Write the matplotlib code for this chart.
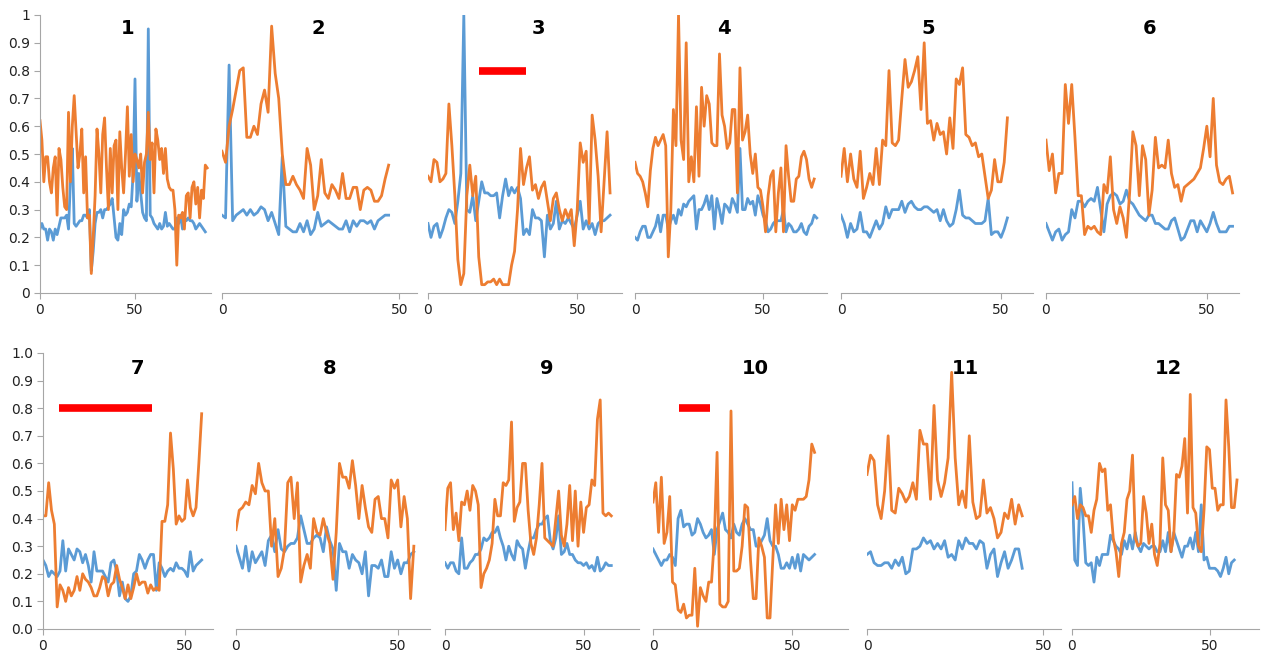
import matplotlib
matplotlib.use("Agg")
import matplotlib.pyplot as plt

BLUE = "#5B9BD5"
ORANGE = "#ED7D31"
RED = "#FF0000"
GREY = "#A6A6A6"

# ---- data (one blue + one orange series per panel) ----
blue_1 = [0.23, 0.25, 0.23, 0.23, 0.19, 0.23, 0.22, 0.19, 0.23, 0.21,
          0.24, 0.27, 0.27, 0.27, 0.28, 0.23, 0.40, 0.52, 0.25, 0.24,
          0.25, 0.26, 0.26, 0.28, 0.28, 0.27, 0.30, 0.08, 0.15, 0.25,
          0.29, 0.29, 0.30, 0.27, 0.30, 0.30, 0.31, 0.32, 0.34, 0.27,
          0.20, 0.19, 0.25, 0.21, 0.30, 0.28, 0.29, 0.32, 0.31, 0.43,
          0.77, 0.33, 0.43, 0.36, 0.29, 0.27, 0.26, 0.95, 0.28, 0.27,
          0.25, 0.24, 0.23, 0.25, 0.23, 0.24, 0.29, 0.24, 0.25, 0.24,
          0.23, 0.23, 0.27, 0.25, 0.28, 0.23, 0.27, 0.26, 0.27, 0.26,
          0.26, 0.25, 0.23, 0.24, 0.25, 0.24, 0.23, 0.22]
orange_1 = [0.62, 0.55, 0.40, 0.49, 0.49, 0.40, 0.36, 0.45, 0.49, 0.28,
            0.52, 0.48, 0.38, 0.31, 0.30, 0.65, 0.40, 0.60, 0.71, 0.58,
            0.45, 0.50, 0.59, 0.36, 0.49, 0.27, 0.28, 0.07, 0.20, 0.35,
            0.59, 0.50, 0.36, 0.57, 0.63, 0.45, 0.30, 0.52, 0.36, 0.53,
            0.55, 0.30, 0.58, 0.45, 0.36, 0.50, 0.67, 0.42, 0.57, 0.40,
            0.50, 0.48, 0.45, 0.50, 0.36, 0.47, 0.50, 0.65, 0.48, 0.54,
            0.36, 0.59, 0.55, 0.48, 0.52, 0.43, 0.52, 0.41, 0.38, 0.37,
            0.37, 0.30, 0.10, 0.28, 0.27, 0.29, 0.23, 0.35, 0.36, 0.27,
            0.38, 0.40, 0.32, 0.38, 0.27, 0.37, 0.34, 0.46, 0.45]

blue_2 = [0.28, 0.27, 0.82, 0.26, 0.28, 0.29, 0.30, 0.28, 0.30, 0.28,
          0.29, 0.31, 0.30, 0.26, 0.29, 0.25, 0.21, 0.49, 0.24, 0.23,
          0.22, 0.22, 0.25, 0.22, 0.26, 0.21, 0.23, 0.29, 0.24, 0.25,
          0.26, 0.25, 0.24, 0.23, 0.23, 0.26, 0.22, 0.26, 0.24, 0.26,
          0.26, 0.25, 0.26, 0.23, 0.26, 0.27, 0.28, 0.28]
orange_2 = [0.51, 0.47, 0.60, 0.66, 0.73, 0.80, 0.81, 0.56, 0.56, 0.60,
            0.57, 0.68, 0.73, 0.65, 0.96, 0.79, 0.70, 0.50, 0.39, 0.39,
            0.42, 0.39, 0.37, 0.34, 0.52, 0.46, 0.30, 0.35, 0.48, 0.36,
            0.34, 0.39, 0.37, 0.34, 0.43, 0.34, 0.34, 0.38, 0.38, 0.30,
            0.37, 0.38, 0.37, 0.33, 0.33, 0.35, 0.41, 0.46]

blue_3 = [0.25, 0.20, 0.24, 0.25, 0.20, 0.23, 0.27, 0.30, 0.29, 0.25,
          0.33, 0.43, 1.00, 0.30, 0.29, 0.35, 0.26, 0.33, 0.40, 0.36,
          0.36, 0.35, 0.35, 0.36, 0.27, 0.35, 0.41, 0.35, 0.38, 0.36,
          0.38, 0.34, 0.21, 0.23, 0.21, 0.30, 0.27, 0.27, 0.26, 0.13,
          0.28, 0.23, 0.25, 0.33, 0.23, 0.26, 0.25, 0.27, 0.25, 0.23,
          0.28, 0.33, 0.23, 0.26, 0.23, 0.25, 0.21, 0.25, 0.26, 0.26,
          0.27, 0.28]
orange_3 = [0.42, 0.40, 0.48, 0.47, 0.40, 0.41, 0.43, 0.68, 0.53, 0.35,
            0.12, 0.03, 0.07, 0.35, 0.46, 0.35, 0.42, 0.13, 0.03, 0.03,
            0.04, 0.04, 0.05, 0.03, 0.05, 0.03, 0.03, 0.03, 0.10, 0.15,
            0.30, 0.52, 0.39, 0.45, 0.49, 0.37, 0.39, 0.34, 0.38, 0.40,
            0.33, 0.26, 0.34, 0.36, 0.30, 0.26, 0.30, 0.27, 0.30, 0.17,
            0.30, 0.54, 0.47, 0.51, 0.25, 0.64, 0.55, 0.42, 0.22, 0.40,
            0.58, 0.36]

blue_4 = [0.20, 0.19, 0.22, 0.24, 0.24, 0.20, 0.20, 0.22, 0.24, 0.28,
          0.22, 0.28, 0.28, 0.23, 0.26, 0.28, 0.25, 0.30, 0.28, 0.32,
          0.31, 0.33, 0.34, 0.35, 0.23, 0.30, 0.30, 0.32, 0.35, 0.30,
          0.35, 0.23, 0.34, 0.30, 0.25, 0.32, 0.31, 0.29, 0.34, 0.32,
          0.29, 0.52, 0.30, 0.30, 0.34, 0.32, 0.33, 0.28, 0.35, 0.32,
          0.28, 0.26, 0.22, 0.23, 0.25, 0.26, 0.26, 0.26, 0.30, 0.22,
          0.25, 0.24, 0.22, 0.22, 0.23, 0.25, 0.22, 0.21, 0.24, 0.25,
          0.28, 0.27]
orange_4 = [0.47, 0.43, 0.42, 0.40, 0.36, 0.31, 0.44, 0.52, 0.56, 0.53,
            0.55, 0.57, 0.53, 0.13, 0.30, 0.66, 0.53, 1.00, 0.55, 0.48,
            0.90, 0.40, 0.49, 0.40, 0.67, 0.42, 0.74, 0.60, 0.71, 0.68,
            0.54, 0.53, 0.53, 0.86, 0.64, 0.60, 0.52, 0.54, 0.66, 0.66,
            0.36, 0.81, 0.55, 0.58, 0.64, 0.50, 0.43, 0.50, 0.38, 0.37,
            0.31, 0.22, 0.35, 0.42, 0.44, 0.22, 0.36, 0.45, 0.22, 0.53,
            0.42, 0.33, 0.33, 0.41, 0.42, 0.49, 0.51, 0.48, 0.41, 0.38,
            0.41]

blue_5 = [0.28, 0.25, 0.20, 0.25, 0.22, 0.23, 0.29, 0.22, 0.22, 0.20,
          0.23, 0.26, 0.23, 0.25, 0.31, 0.27, 0.30, 0.30, 0.30, 0.33,
          0.29, 0.32, 0.33, 0.31, 0.30, 0.30, 0.31, 0.31, 0.30, 0.29,
          0.30, 0.26, 0.30, 0.26, 0.24, 0.25, 0.30, 0.37, 0.28, 0.27,
          0.27, 0.26, 0.25, 0.25, 0.25, 0.26, 0.34, 0.21, 0.22, 0.22,
          0.20, 0.23, 0.27]
orange_5 = [0.42, 0.52, 0.40, 0.50, 0.41, 0.38, 0.51, 0.34, 0.38, 0.43,
            0.39, 0.52, 0.39, 0.55, 0.53, 0.80, 0.54, 0.53, 0.55, 0.70,
            0.84, 0.74, 0.76, 0.80, 0.85, 0.66, 0.90, 0.61, 0.62, 0.55,
            0.61, 0.57, 0.58, 0.50, 0.63, 0.52, 0.77, 0.75, 0.81, 0.57,
            0.56, 0.53, 0.54, 0.49, 0.50, 0.42, 0.34, 0.37, 0.48, 0.40,
            0.40, 0.47, 0.63]

blue_6 = [0.25, 0.22, 0.19, 0.22, 0.23, 0.19, 0.21, 0.22, 0.30, 0.27,
          0.33, 0.33, 0.31, 0.33, 0.34, 0.33, 0.38, 0.30, 0.22, 0.32,
          0.35, 0.36, 0.35, 0.32, 0.33, 0.37, 0.33, 0.32, 0.30, 0.28,
          0.27, 0.26, 0.28, 0.28, 0.25, 0.25, 0.24, 0.23, 0.23, 0.26,
          0.27, 0.23, 0.19, 0.20, 0.23, 0.26, 0.26, 0.22, 0.26, 0.24,
          0.22, 0.25, 0.29, 0.25, 0.22, 0.22, 0.22, 0.24, 0.24]
orange_6 = [0.55, 0.44, 0.50, 0.36, 0.43, 0.43, 0.75, 0.61, 0.75, 0.56,
            0.35, 0.35, 0.21, 0.24, 0.23, 0.24, 0.22, 0.21, 0.39, 0.36,
            0.49, 0.30, 0.25, 0.31, 0.27, 0.20, 0.36, 0.58, 0.53, 0.35,
            0.53, 0.48, 0.28, 0.37, 0.56, 0.45, 0.46, 0.45, 0.55, 0.43,
            0.38, 0.39, 0.33, 0.38, 0.39, 0.40, 0.41, 0.43, 0.45, 0.52,
            0.60, 0.49, 0.70, 0.46, 0.40, 0.39, 0.41, 0.42, 0.36]

blue_7 = [0.25, 0.23, 0.19, 0.21, 0.20, 0.19, 0.21, 0.32, 0.21, 0.29,
          0.27, 0.25, 0.29, 0.28, 0.24, 0.27, 0.23, 0.17, 0.28, 0.21,
          0.21, 0.21, 0.19, 0.17, 0.24, 0.25, 0.21, 0.12, 0.17, 0.11,
          0.10, 0.12, 0.20, 0.21, 0.27, 0.25, 0.22, 0.25, 0.27, 0.27,
          0.14, 0.24, 0.22, 0.19, 0.21, 0.22, 0.21, 0.24, 0.22, 0.22,
          0.21, 0.19, 0.28, 0.21, 0.23, 0.24, 0.25]
orange_7 = [0.41, 0.41, 0.53, 0.43, 0.38, 0.08, 0.16, 0.14, 0.10, 0.15,
            0.12, 0.14, 0.19, 0.14, 0.20, 0.18, 0.17, 0.15, 0.12, 0.12,
            0.15, 0.19, 0.18, 0.12, 0.16, 0.17, 0.23, 0.18, 0.15, 0.11,
            0.16, 0.11, 0.15, 0.20, 0.16, 0.17, 0.17, 0.13, 0.16, 0.14,
            0.15, 0.14, 0.39, 0.39, 0.45, 0.71, 0.58, 0.38, 0.41, 0.39,
            0.40, 0.54, 0.44, 0.41, 0.44, 0.60, 0.78]

blue_8 = [0.30, 0.26, 0.22, 0.30, 0.21, 0.28, 0.24, 0.26, 0.28, 0.23,
          0.32, 0.34, 0.28, 0.36, 0.29, 0.28, 0.30, 0.31, 0.31, 0.33,
          0.41, 0.36, 0.31, 0.31, 0.33, 0.34, 0.33, 0.28, 0.37, 0.32,
          0.29, 0.14, 0.31, 0.28, 0.28, 0.22, 0.27, 0.25, 0.24, 0.20,
          0.28, 0.12, 0.23, 0.23, 0.22, 0.25, 0.19, 0.19, 0.28, 0.22,
          0.25, 0.20, 0.24, 0.24, 0.27, 0.28]
orange_8 = [0.36, 0.43, 0.44, 0.46, 0.45, 0.52, 0.49, 0.60, 0.53, 0.50,
            0.50, 0.30, 0.40, 0.19, 0.22, 0.29, 0.53, 0.55, 0.40, 0.53,
            0.17, 0.23, 0.27, 0.22, 0.40, 0.35, 0.34, 0.40, 0.35, 0.31,
            0.18, 0.35, 0.60, 0.55, 0.55, 0.51, 0.61, 0.52, 0.40, 0.52,
            0.44, 0.37, 0.35, 0.47, 0.48, 0.40, 0.40, 0.33, 0.54, 0.51,
            0.54, 0.37, 0.48, 0.40, 0.11, 0.30]

blue_9 = [0.24, 0.22, 0.24, 0.24, 0.21, 0.20, 0.33, 0.22, 0.22, 0.24,
          0.25, 0.27, 0.27, 0.29, 0.33, 0.32, 0.33, 0.35, 0.35, 0.37,
          0.33, 0.30, 0.25, 0.30, 0.27, 0.25, 0.32, 0.30, 0.29, 0.22,
          0.28, 0.33, 0.33, 0.36, 0.38, 0.38, 0.40, 0.41, 0.32, 0.29,
          0.33, 0.41, 0.27, 0.28, 0.31, 0.27, 0.27, 0.25, 0.24, 0.24,
          0.23, 0.24, 0.22, 0.23, 0.21, 0.26, 0.21, 0.22, 0.24, 0.23,
          0.23]
orange_9 = [0.36, 0.51, 0.53, 0.36, 0.42, 0.32, 0.46, 0.45, 0.50, 0.43,
            0.52, 0.50, 0.45, 0.15, 0.20, 0.22, 0.25, 0.31, 0.47, 0.41,
            0.41, 0.53, 0.52, 0.54, 0.75, 0.39, 0.44, 0.46, 0.60, 0.60,
            0.43, 0.31, 0.27, 0.33, 0.45, 0.60, 0.33, 0.32, 0.31, 0.30,
            0.40, 0.50, 0.34, 0.30, 0.38, 0.52, 0.32, 0.50, 0.30, 0.46,
            0.35, 0.44, 0.45, 0.54, 0.52, 0.76, 0.83, 0.42, 0.41, 0.42,
            0.41]

blue_10 = [0.29, 0.27, 0.25, 0.23, 0.25, 0.25, 0.27, 0.26, 0.23, 0.40,
           0.43, 0.37, 0.38, 0.38, 0.34, 0.35, 0.40, 0.38, 0.35, 0.33,
           0.34, 0.36, 0.27, 0.36, 0.39, 0.42, 0.36, 0.35, 0.33, 0.38,
           0.35, 0.34, 0.38, 0.40, 0.38, 0.36, 0.36, 0.30, 0.30, 0.32,
           0.34, 0.40, 0.32, 0.30, 0.30, 0.27, 0.22, 0.22, 0.24, 0.22,
           0.26, 0.22, 0.27, 0.21, 0.27, 0.26, 0.25, 0.26, 0.27]
orange_10 = [0.46, 0.53, 0.35, 0.55, 0.31, 0.35, 0.48, 0.17, 0.16, 0.07,
             0.06, 0.09, 0.04, 0.05, 0.05, 0.22, 0.01, 0.15, 0.12, 0.10,
             0.17, 0.17, 0.32, 0.64, 0.09, 0.08, 0.08, 0.10, 0.79, 0.21,
             0.21, 0.22, 0.30, 0.45, 0.44, 0.25, 0.11, 0.11, 0.33, 0.30,
             0.26, 0.04, 0.04, 0.25, 0.45, 0.31, 0.47, 0.36, 0.45, 0.32,
             0.45, 0.43, 0.47, 0.47, 0.47, 0.48, 0.54, 0.67, 0.64]

blue_11 = [0.27, 0.28, 0.24, 0.23, 0.23, 0.24, 0.24, 0.22, 0.25, 0.23,
           0.26, 0.20, 0.21, 0.29, 0.29, 0.30, 0.33, 0.31, 0.32, 0.29,
           0.31, 0.29, 0.32, 0.26, 0.27, 0.25, 0.32, 0.29, 0.33, 0.31,
           0.31, 0.29, 0.32, 0.31, 0.22, 0.27, 0.29, 0.19, 0.24, 0.28,
           0.22, 0.25, 0.29, 0.29, 0.22]
orange_11 = [0.56, 0.63, 0.61, 0.45, 0.40, 0.50, 0.70, 0.43, 0.42, 0.51,
             0.49, 0.46, 0.48, 0.53, 0.47, 0.72, 0.67, 0.67, 0.47, 0.81,
             0.54, 0.48, 0.53, 0.62, 0.93, 0.62, 0.45, 0.50, 0.44, 0.70,
             0.46, 0.40, 0.41, 0.54, 0.42, 0.44, 0.40, 0.33, 0.35, 0.42,
             0.40, 0.47, 0.38, 0.45, 0.41]

blue_12 = [0.53, 0.25, 0.23, 0.51, 0.40, 0.24, 0.23, 0.24, 0.17, 0.26,
           0.23, 0.27, 0.27, 0.27, 0.34, 0.32, 0.30, 0.29, 0.27, 0.32,
           0.29, 0.34, 0.29, 0.35, 0.30, 0.28, 0.31, 0.30, 0.29, 0.30,
           0.30, 0.28, 0.28, 0.32, 0.28, 0.35, 0.28, 0.35, 0.32, 0.29,
           0.26, 0.30, 0.30, 0.33, 0.29, 0.35, 0.28, 0.45, 0.25, 0.26,
           0.22, 0.22, 0.22, 0.21, 0.19, 0.22, 0.26, 0.20, 0.24, 0.25]
orange_12 = [0.45, 0.48, 0.40, 0.45, 0.44, 0.41, 0.41, 0.35, 0.43, 0.47,
             0.60, 0.57, 0.58, 0.43, 0.45, 0.33, 0.28, 0.19, 0.31, 0.35,
             0.47, 0.50, 0.63, 0.33, 0.30, 0.31, 0.48, 0.42, 0.31, 0.38,
             0.27, 0.23, 0.31, 0.62, 0.45, 0.43, 0.28, 0.34, 0.56, 0.55,
             0.59, 0.69, 0.42, 0.85, 0.44, 0.42, 0.30, 0.28, 0.43, 0.66,
             0.65, 0.51, 0.51, 0.43, 0.45, 0.45, 0.83, 0.66, 0.44, 0.44,
             0.54]

panel_labels = ["1", "2", "3", "4", "5", "6", "7", "8", "9", "10", "11", "12"]
blues = [blue_1, blue_2, blue_3, blue_4, blue_5, blue_6,
         blue_7, blue_8, blue_9, blue_10, blue_11, blue_12]
oranges = [orange_1, orange_2, orange_3, orange_4, orange_5, orange_6,
           orange_7, orange_8, orange_9, orange_10, orange_11, orange_12]

# red marker bars: panel -> (x start, x end, y)
red_bars = {"3": (17, 33, 0.8), "7": (5.6, 38.6, 0.8), "10": (9.2, 20.6, 0.8)}

# ---- layout (pixels in the 1261x654 figure) ----
W, H = 1261, 654
x_max = [90, 55, 65, 75, 60, 60, 60, 60, 70, 70, 55, 68]
px_left = [40, 222, 428, 635, 841, 1046, 43, 236, 445, 653, 867, 1072]
px_right = [211, 417, 622, 827, 1033, 1239, 213, 430, 639, 848, 1061, 1259]
title_px = [(128, 28), (318, 28), (538, 28), (724, 28), (928, 28), (1150, 28),
            (138, 368), (330, 368), (547, 368), (755, 368), (965, 368), (1168, 368)]
row_px = [(293, 15), (629, 353)]  # (y of 0, y of 1)

fig = plt.figure(figsize=(W / 100, H / 100), dpi=100)

for i in range(12):
    row = 0 if i < 6 else 1
    y0, y1 = row_px[row]
    ax = fig.add_axes([px_left[i] / W, 1 - y0 / H,
                       (px_right[i] - px_left[i]) / W, (y0 - y1) / H])
    ax.plot(range(len(blues[i])), blues[i], color=BLUE, lw=2)
    ax.plot(range(len(oranges[i])), oranges[i], color=ORANGE, lw=2)
    lab = panel_labels[i]
    if lab in red_bars:
        xs, xe, yb = red_bars[lab]
        ax.plot([xs, xe], [yb, yb], color=RED, lw=5.5, solid_capstyle="butt")
    ax.set_xlim(0, x_max[i])
    ax.set_ylim(0, 1)
    ax.patch.set_alpha(0)
    for s in ["top", "right"]:
        ax.spines[s].set_visible(False)
    ax.spines["bottom"].set_color(GREY)
    ax.set_xticks([0, 50])
    ax.tick_params(axis="x", colors=GREY, labelcolor="#222222", labelsize=10,
                   length=4, width=0.8, pad=3)
    if i in (0, 6):
        ax.spines["left"].set_color(GREY)
        ax.set_yticks([k / 10 for k in range(11)])
        if i == 0:
            ax.set_yticklabels(["0"] + ["%.1f" % (k / 10) for k in range(1, 10)] + ["1"])
        else:
            ax.set_yticklabels(["%.1f" % (k / 10) for k in range(11)])
        ax.tick_params(axis="y", colors=GREY, labelcolor="#222222", labelsize=10,
                       length=4, width=0.8, pad=3)
    else:
        ax.spines["left"].set_visible(False)
        ax.set_yticks([])
    tx, ty = title_px[i]
    fig.text(tx / W, 1 - ty / H, lab, ha="center", va="center",
             fontsize=14, fontweight="bold")

fig.savefig("out.png", dpi=100)
